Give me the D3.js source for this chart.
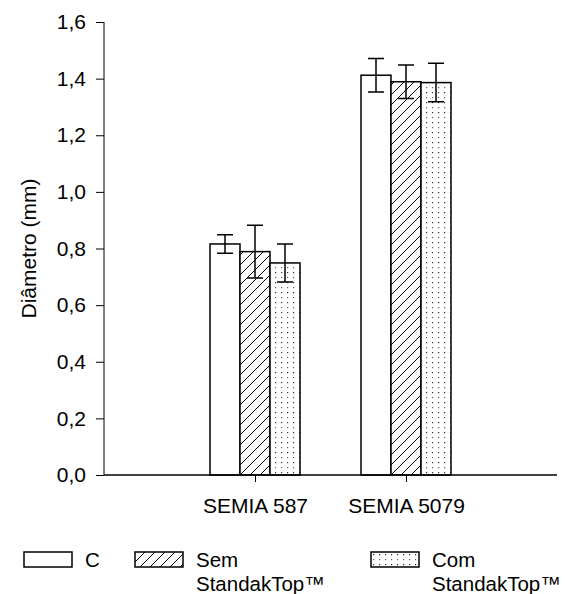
<!DOCTYPE html>
<html lang="pt">
<head>
    <meta charset="UTF-8">
    <title>Diâmetro</title>
    <script src="https://cdn.jsdelivr.net/npm/d3@7"></script>
    <style>
        body { margin: 0; background: #fff; }
        svg text { font-family: Arial, "Liberation Sans", sans-serif; fill: #000; }
    </style>
</head>
<body>
    <svg id="chart" width="566" height="594"></svg>

    <script>
        // data
        const strains = ['SEMIA 587', 'SEMIA 5079'];
        const treatments = ['C', 'Sem StandakTop™', 'Com StandakTop™'];
        const means = [
            [0.816, 0.789, 0.749],
            [1.412, 1.389, 1.386]
        ];
        const errors = [
            [0.033, 0.093, 0.067],
            [0.059, 0.059, 0.068]
        ];
        const yTicks = [0, 0.2, 0.4, 0.6, 0.8, 1.0, 1.2, 1.4, 1.6];
        const legendLines = [['C'], ['Sem', 'StandakTop™'], ['Com', 'StandakTop™']];

        const svg = d3.select('#chart');
        const plotL = 104, plotR = 557, plotT = 22, plotB = 475;
        const font = 'Arial, "Liberation Sans", sans-serif';

        // patterns for the bars
        const defs = svg.append('defs');
        const hatch = defs.append('pattern')
            .attr('id', 'hatch')
            .attr('patternUnits', 'userSpaceOnUse')
            .attr('width', 10).attr('height', 10);
        hatch.append('rect').attr('width', 10).attr('height', 10).attr('fill', '#fff');
        hatch.append('path')
            .attr('d', 'M-2,12 L12,-2 M-2,2 L2,-2 M8,12 L12,8')
            .attr('stroke', '#000').attr('stroke-width', 1);

        const dots = defs.append('pattern')
            .attr('id', 'dots')
            .attr('patternUnits', 'userSpaceOnUse')
            .attr('width', 6).attr('height', 10);
        dots.append('rect').attr('width', 6).attr('height', 10).attr('fill', '#fff');
        dots.append('rect').attr('x', 2).attr('y', 2).attr('width', 1.2).attr('height', 1.2).attr('fill', '#333');
        dots.append('rect').attr('x', 2).attr('y', 7).attr('width', 1.2).attr('height', 1.2).attr('fill', '#666');

        const fills = ['#fff', 'url(#hatch)', 'url(#dots)'];

        const x = d3.scalePoint().domain(strains).range([plotL, plotR]).padding(1);
        const xSub = d3.scaleBand().domain(treatments).range([-45, 45]);
        const y = d3.scaleLinear().domain([0, 1.6]).range([plotB, plotT]);

        // y axis
        const yAxis = svg.append('g')
            .attr('transform', `translate(${plotL},0)`)
            .call(d3.axisLeft(y).tickValues(yTicks).tickSize(8).tickPadding(10)
                .tickFormat(d => d3.format('.1f')(d).replace('.', ',')));
        yAxis.select('.domain').attr('stroke', '#000').attr('d', `M0,${plotT}V${plotB}`);
        yAxis.selectAll('.tick line').attr('stroke', '#000');
        yAxis.selectAll('text').attr('font-size', 21).attr('font-family', font);

        // bars
        strains.forEach((s, i) => {
            const g = svg.append('g').attr('transform', `translate(${x(s)},0)`);
            treatments.forEach((t, j) => {
                g.append('rect')
                    .attr('x', xSub(t))
                    .attr('y', y(means[i][j]))
                    .attr('width', xSub.bandwidth())
                    .attr('height', y(0) - y(means[i][j]))
                    .attr('fill', fills[j])
                    .attr('stroke', '#000')
                    .attr('stroke-width', 1.5);
            });
            treatments.forEach((t, j) => {
                const cx = xSub(t) + xSub.bandwidth() / 2;
                const hi = y(means[i][j] + errors[i][j]);
                const lo = y(means[i][j] - errors[i][j]);
                g.append('path')
                    .attr('d', `M${cx},${hi}V${lo}M${cx - 8},${hi}H${cx + 8}M${cx - 8},${lo}H${cx + 8}`)
                    .attr('stroke', '#000')
                    .attr('stroke-width', 1.5)
                    .attr('fill', 'none');
            });
        });

        // x axis
        const xAxis = svg.append('g')
            .attr('transform', `translate(0,${plotB})`)
            .call(d3.axisBottom(x).tickSize(7).tickPadding(16));
        xAxis.select('.domain').attr('stroke', '#000').attr('stroke-width', 1.5).attr('d', `M${plotL},0H${plotR}`);
        xAxis.selectAll('.tick line').attr('stroke', '#000');
        xAxis.selectAll('text').attr('font-size', 21).attr('font-family', font);

        // y title
        svg.append('text')
            .attr('transform', `translate(36,${(plotT + plotB) / 2}) rotate(-90)`)
            .attr('text-anchor', 'middle')
            .attr('font-size', 21)
            .text('Diâmetro (mm)');

        // legend
        const legendX = [24, 135, 371];
        legendLines.forEach((lines, j) => {
            const lg = svg.append('g').attr('transform', `translate(${legendX[j]},552)`);
            lg.append('rect')
                .attr('width', 48).attr('height', 15)
                .attr('fill', fills[j])
                .attr('stroke', '#000').attr('stroke-width', 1.5);
            lines.forEach((l, k) => {
                lg.append('text')
                    .attr('x', 61)
                    .attr('y', 15 + k * 23.5)
                    .attr('font-size', 20.5)
                    .text(l);
            });
        });
    </script>
</body>
</html>
